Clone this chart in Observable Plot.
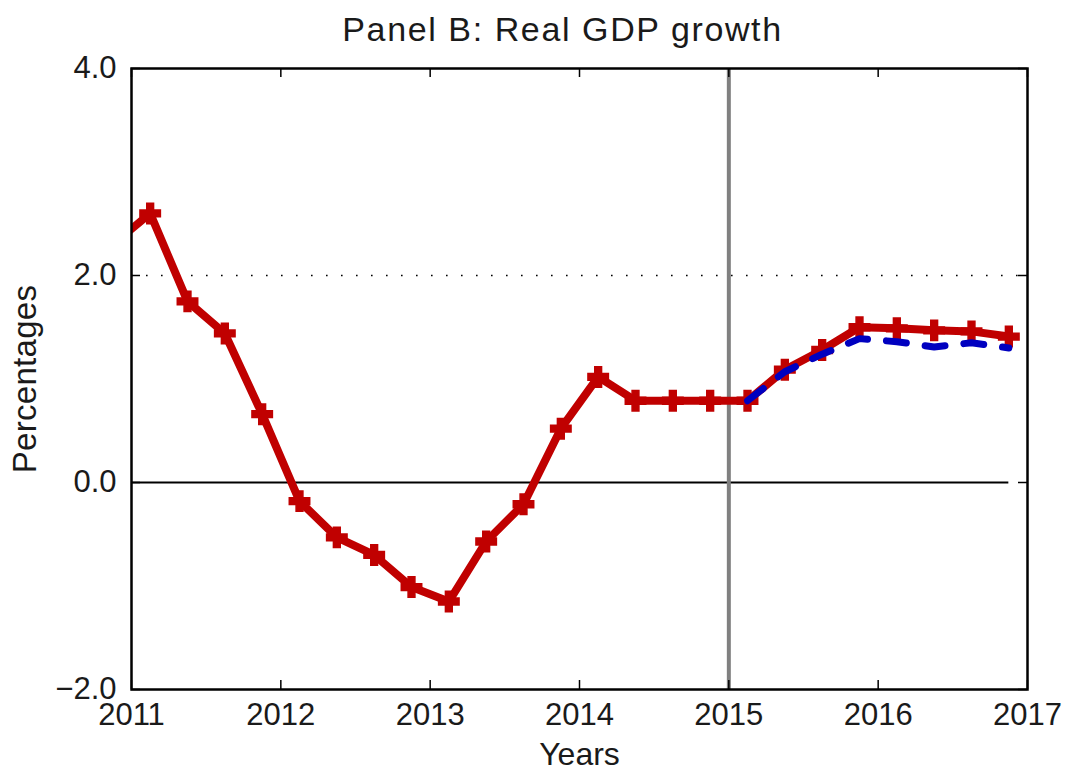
<!DOCTYPE html>
<html><head><meta charset="utf-8">
<script src="https://cdn.jsdelivr.net/npm/d3@7"></script>
<script src="https://cdn.jsdelivr.net/npm/@observablehq/plot@0.6"></script>
<style>
body{margin:0;background:#fff;}
#chart svg{display:block;}
</style></head><body><div id="chart"></div>
<script>
const title = "Panel B: Real GDP growth";
const xLabel = "Years";
const yLabel = "Percentages";

const quarters = ["2010Q4","2011Q1","2011Q2","2011Q3","2011Q4","2012Q1","2012Q2","2012Q3","2012Q4",
  "2013Q1","2013Q2","2013Q3","2013Q4","2014Q1","2014Q2","2014Q3","2014Q4",
  "2015Q1","2015Q2","2015Q3","2015Q4","2016Q1","2016Q2","2016Q3","2016Q4"];
const baseline = [2.30, 2.60, 1.75, 1.44, 0.66, -0.18, -0.53, -0.70, -1.01,
  -1.15, -0.57, -0.21, 0.52, 1.02, 0.79, 0.79, 0.79,
  0.79, 1.09, 1.28, 1.50, 1.49, 1.47, 1.46, 1.41];

const altQuarters = ["2015Q1","2015Q2","2015Q3","2015Q4","2016Q1","2016Q2","2016Q3","2016Q4"];
const alternative = [0.79, 1.07, 1.24, 1.39, 1.36, 1.31, 1.35, 1.30];

const xTicks = [2011, 2012, 2013, 2014, 2015, 2016, 2017];
const yTicks = [-2, 0, 2, 4];
const gridLevels = [2];
const zeroLevel = [0];
const forecastStart = [2015];

const toYear = q => +q.slice(0, 4) + (+q.slice(5) - 0.5) / 4;
const red = quarters.map((q, i) => ({x: toYear(q), y: baseline[i]}));
const blue = altQuarters.map((q, i) => ({x: toYear(q), y: alternative[i]}));

const W = 1065, H = 773, mT = 68, mB = 84, mL = 131, mR = 38;
const plotW = W - mL - mR, plotH = H - mT - mB;
const tickLen = 9;
const RED = "#c00000", BLUE = "#0000c0", INK = "#1a1a1a";

const chart = Plot.plot({
  width: W, height: H,
  marginTop: mT, marginBottom: mB, marginLeft: mL, marginRight: mR,
  style: {fontFamily: "'Liberation Sans', Arial, Helvetica, sans-serif", fontSize: "31px", color: INK, background: "#fff"},
  x: {domain: [xTicks[0], xTicks[xTicks.length - 1]]},
  y: {domain: [yTicks[0], yTicks[yTicks.length - 1]]},
  marks: [
    Plot.ruleY(gridLevels, {y: d => d, stroke: "#000", strokeWidth: 1.6, strokeDasharray: "1.6,13.4"}),
    Plot.ruleY(zeroLevel, {y: d => d, x1: xTicks[0], x2: red[red.length - 1].x, stroke: "#000", strokeWidth: 2}),
    Plot.ruleX(forecastStart, {x: d => d, stroke: "#808080", strokeWidth: 4}),
    Plot.line(red, {x: "x", y: "y", stroke: RED, strokeWidth: 8, strokeLinejoin: "round", clip: true}),
    Plot.dot(red, {x: "x", y: "y", symbol: "cross", r: 8.6, fill: RED, stroke: RED, strokeWidth: 1.5, clip: true}),
    Plot.line(blue, {x: "x", y: "y", stroke: BLUE, strokeWidth: 7, strokeDasharray: "20,19", clip: true}),
    // inward ticks
    Plot.ruleX(xTicks, {x: d => d, insetTop: plotH - tickLen, stroke: "#000", strokeWidth: 1.5}),
    Plot.ruleX(xTicks, {x: d => d, insetBottom: plotH - tickLen, stroke: "#000", strokeWidth: 1.5}),
    Plot.ruleY(yTicks, {y: d => d, insetLeft: plotW - tickLen, stroke: "#000", strokeWidth: 1.5}),
    Plot.ruleY(yTicks, {y: d => d, insetRight: plotW - tickLen, stroke: "#000", strokeWidth: 1.5}),
    Plot.axisX({ticks: xTicks, tickFormat: "d", tickSize: 0, tickPadding: 13, fontSize: 31, fill: INK, label: null}),
    Plot.axisY({ticks: yTicks, tickFormat: d3.format(".1f"), tickSize: 0, tickPadding: 15, fontSize: 31, fill: INK, label: null}),
    Plot.frame({stroke: "#000", strokeWidth: 2.5}),
    Plot.text([title], {frameAnchor: "top", dx: -17, dy: -38, fontSize: 34, fill: INK, textAnchor: "middle", lineAnchor: "middle"}),
    Plot.text([xLabel], {frameAnchor: "bottom", dy: 65, fontSize: 32, fill: INK, textAnchor: "middle", lineAnchor: "middle"}),
    Plot.text([yLabel], {frameAnchor: "left", dx: -106, rotate: -90, fontSize: 33, fill: INK, textAnchor: "middle", lineAnchor: "middle"})
  ]
});
chart.querySelectorAll("text").forEach(t => {
  if (t.textContent === title) t.style.letterSpacing = "1.6px";
  if (t.textContent === yLabel) t.style.letterSpacing = "0.3px";
});
document.getElementById("chart").appendChild(chart);
</script></body></html>
